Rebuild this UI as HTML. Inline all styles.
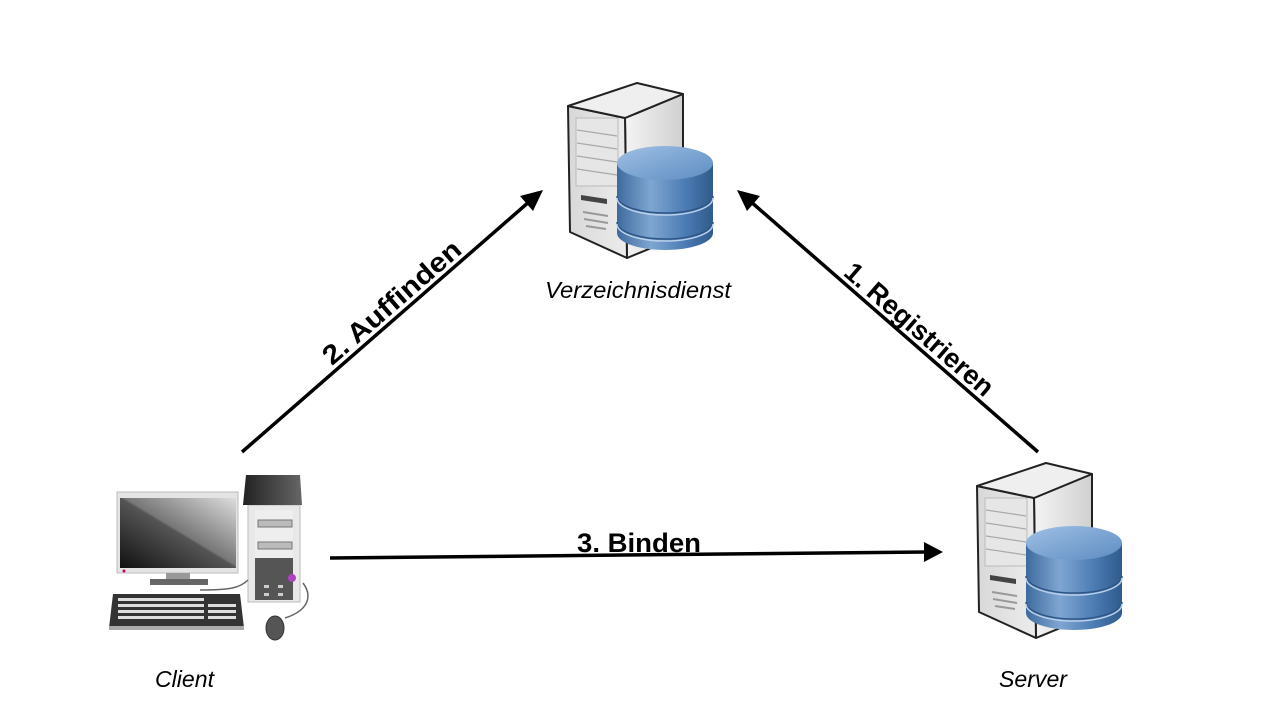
<!DOCTYPE html>
<html><head><meta charset="utf-8"><style>
html,body{margin:0;padding:0;background:#fff;}
svg{display:block;}
</style></head><body>
<svg width="1280" height="720" viewBox="0 0 1280 720" xmlns="http://www.w3.org/2000/svg">
<defs>
<linearGradient id="front" x1="0" y1="0" x2="1" y2="0"><stop offset="0" stop-color="#d8d8d8"/><stop offset="1" stop-color="#ececec"/></linearGradient>
<linearGradient id="side" x1="0" y1="0" x2="1" y2="0"><stop offset="0" stop-color="#f4f4f4"/><stop offset="1" stop-color="#d0d0d0"/></linearGradient>
<linearGradient id="cyl" x1="0" y1="0" x2="1" y2="0"><stop offset="0" stop-color="#3d6a9e"/><stop offset="0.35" stop-color="#7fa6d2"/><stop offset="0.7" stop-color="#4d7db5"/><stop offset="1" stop-color="#2f5a8c"/></linearGradient>
<linearGradient id="cyltop" x1="0" y1="0" x2="1" y2="1"><stop offset="0" stop-color="#9fc0e4"/><stop offset="1" stop-color="#5d8cc2"/></linearGradient>
<linearGradient id="scr" x1="0" y1="1" x2="1" y2="0"><stop offset="0" stop-color="#111"/><stop offset="0.5" stop-color="#555"/><stop offset="0.52" stop-color="#777"/><stop offset="1" stop-color="#ddd"/></linearGradient>
<linearGradient id="twr" x1="0" y1="0" x2="1" y2="0"><stop offset="0" stop-color="#222"/><stop offset="1" stop-color="#666"/></linearGradient>
<g id="srv">
  <polygon points="625,118 683,94 683,235 627,258" fill="url(#side)" stroke="#222" stroke-width="2" stroke-linejoin="round"/>
  <polygon points="568,106 625,118 627,258 570,232" fill="url(#front)" stroke="#222" stroke-width="2" stroke-linejoin="round"/>
  <polygon points="568,106 637,83 683,94 625,118" fill="#efefef" stroke="#222" stroke-width="2" stroke-linejoin="round"/>
  <rect x="576" y="118" width="42" height="68" fill="#e6e6e6" stroke="#bbb"/>
  <g stroke="#aaa" stroke-width="1.2"><line x1="577" y1="130" x2="617" y2="136"/><line x1="577" y1="143" x2="617" y2="149"/><line x1="577" y1="156" x2="617" y2="162"/><line x1="577" y1="169" x2="617" y2="175"/></g>
  <path d="M581,195 L607,199 L607,204 L581,200 Z" fill="#444"/>
  <g stroke="#999" stroke-width="2"><line x1="583" y1="212" x2="608" y2="216"/><line x1="584" y1="219" x2="608" y2="223"/><line x1="586" y1="226" x2="606" y2="229"/></g>
  <path d="M617,163 L617,233 A48,17 0 0 0 713,233 L713,163 Z" fill="url(#cyl)"/>
  <ellipse cx="665" cy="163" rx="48" ry="17" fill="url(#cyltop)"/>
  <path d="M617,196 A48,17 0 0 0 713,196" fill="none" stroke="#2d5585" stroke-width="1.5"/>
  <path d="M617,198 A48,17 0 0 0 713,198" fill="none" stroke="#b9d0ea" stroke-width="1.5"/>
  <path d="M617,222 A48,17 0 0 0 713,222" fill="none" stroke="#2d5585" stroke-width="1.5"/>
  <path d="M617,224 A48,17 0 0 0 713,224" fill="none" stroke="#b9d0ea" stroke-width="1.5"/>
</g>
</defs>

<use href="#srv"/>
<use href="#srv" transform="translate(409,380)"/>

<!-- client -->
<g>
  <path d="M248,505 L300,505 L300,602 L248,602 Z" fill="#e8e8e8" stroke="#bbb"/>
  <polygon points="246,475 300,475 302,505 243,505" fill="url(#twr)"/>
  <rect x="255" y="510" width="38" height="90" fill="#555"/>
  <rect x="255" y="510" width="38" height="48" fill="#eee"/>
  <rect x="258" y="520" width="34" height="7" fill="#bbb" stroke="#777"/>
  <rect x="258" y="542" width="34" height="7" fill="#bbb" stroke="#777"/>
  <circle cx="292" cy="578" r="4" fill="#b040c0"/>
  <rect x="264" y="585" width="5" height="3" fill="#ccc"/><rect x="278" y="585" width="5" height="3" fill="#ccc"/>
  <rect x="264" y="593" width="5" height="3" fill="#ccc"/><rect x="278" y="593" width="5" height="3" fill="#ccc"/>
  <path d="M303,583 C312,595 310,610 285,618" fill="none" stroke="#666" stroke-width="1.5"/>
  <path d="M248,580 C240,588 230,590 200,590" fill="none" stroke="#666" stroke-width="1.5"/>
  <rect x="117" y="492" width="121" height="81" fill="#e4e4e4" stroke="#bbb"/>
  <rect x="120" y="498" width="116" height="70" fill="url(#scr)"/>
  <circle cx="124" cy="571" r="1.5" fill="#c06"/>
  <rect x="166" y="573" width="24" height="7" fill="#999"/>
  <rect x="150" y="579" width="58" height="6" fill="#666"/>
  <path d="M113,594 L240,594 L244,628 L109,628 Z" fill="#333"/>
  <g fill="#ddd">
    <rect x="118" y="598" width="86" height="3"/><rect x="118" y="604" width="86" height="3"/><rect x="118" y="610" width="86" height="3"/><rect x="118" y="616" width="86" height="3"/>
    <rect x="208" y="604" width="28" height="3"/><rect x="208" y="610" width="28" height="3"/><rect x="208" y="616" width="28" height="3"/>
  </g>
  <rect x="109" y="626" width="135" height="4" fill="#aaa"/>
  <ellipse cx="275" cy="628" rx="9" ry="12" fill="#555" stroke="#333"/>
</g>

<!-- arrows -->
<g stroke="#000" stroke-width="3.5" fill="none">
  <line x1="242" y1="452" x2="530" y2="201"/>
  <line x1="1038" y1="452" x2="750" y2="201"/>
  <line x1="330" y1="558" x2="926" y2="552"/>
</g>
<polygon points="543,190 520,196 533,211" fill="#000"/>
<polygon points="737,190 760,196 747,211" fill="#000"/>
<polygon points="943,552 924,542 924,562" fill="#000"/>

<g font-family="Liberation Sans, sans-serif" font-weight="bold" font-size="27" fill="#000">
  <text transform="translate(401,313) rotate(-41)" text-anchor="middle" y="-5" textLength="174" lengthAdjust="spacingAndGlyphs">2. Auffinden</text>
  <text transform="translate(910,340) rotate(41)" text-anchor="middle" y="-5" textLength="188" lengthAdjust="spacingAndGlyphs">1. Registrieren</text>
  <text x="577" y="552" textLength="124" lengthAdjust="spacingAndGlyphs">3. Binden</text>
</g>
<g font-family="Liberation Sans, sans-serif" font-style="italic" font-size="23" fill="#000">
  <text x="545" y="298" textLength="186" lengthAdjust="spacingAndGlyphs">Verzeichnisdienst</text>
  <text x="155" y="687" textLength="59" lengthAdjust="spacingAndGlyphs">Client</text>
  <text x="999" y="687" textLength="68" lengthAdjust="spacingAndGlyphs">Server</text>
</g>
</svg>
</body></html>
